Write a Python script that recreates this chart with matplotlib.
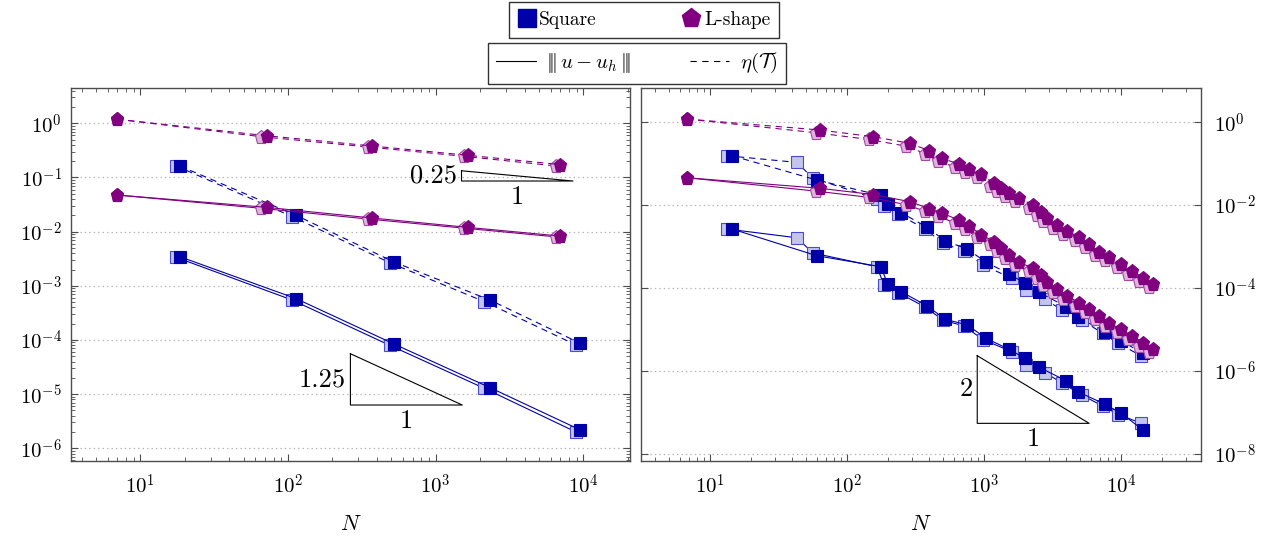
import numpy as np
import matplotlib
matplotlib.use("Agg")
import matplotlib.pyplot as plt
from matplotlib.ticker import LogLocator, FixedLocator, FuncFormatter, NullLocator
from matplotlib.lines import Line2D

plt.rcParams["mathtext.fontset"] = "cm"
plt.rcParams["font.family"] = "serif"
plt.rcParams["font.serif"] = ["cmr10"]
plt.rcParams["axes.unicode_minus"] = False
plt.rcParams["axes.formatter.use_mathtext"] = True
plt.rcParams["lines.scale_dashes"] = False

# ---------------- left panel: uniform refinement ----------------
sq_N_dark_L = [18.5, 113.5, 522, 2331, 9550]
sq_N_light_L = [17.5, 107, 487, 2138, 8913]
sq_eta_dark_L = [0.163, 0.020, 0.00275, 0.000547, 8.67e-5]
sq_eta_light_L = [0.163, 0.0189, 0.00268, 0.00051, 8.1e-5]
sq_err_dark_L = [0.00345, 0.00058, 8.43e-5, 1.32e-5, 2.18e-6]
sq_err_light_L = [0.00335, 0.000545, 8.0e-5, 1.28e-5, 2.0e-6]

ls_N_dark_L = [6.96, 71.6, 369, 1650, 6960]
ls_N_light_L = [6.96, 65.7, 349, 1557, 6570]
ls_eta_dark_L = [1.19, 0.59, 0.382, 0.257, 0.173]
ls_eta_light_L = [1.19, 0.567, 0.366, 0.246, 0.163]
ls_err_dark_L = [0.0475, 0.0281, 0.0179, 0.012, 0.0083]
ls_err_light_L = [0.0475, 0.027, 0.0171, 0.0116, 0.0080]

# ---------------- right panel: adaptive refinement ----------------
sq_N_dark_R = [14.5, 60.1, 177, 198, 249, 385, 522, 758, 1035, 1528, 1982,
               2534, 3970, 4830, 7600, 10050, 14480]
sq_eta_dark_R = [0.156, 0.0404, 0.0171, 0.0105, 0.00655, 0.00292, 0.00136,
                 0.00087, 0.000415, 0.00022, 0.000129, 7.83e-5, 3.52e-5,
                 2.01e-5, 8.75e-6, 5.21e-6, 2.63e-6]
sq_err_dark_R = [0.00265, 0.0006, 0.000325, 0.000124, 8.09e-5, 3.66e-5,
                 1.75e-5, 1.27e-5, 6.06e-6, 3.29e-6, 2.0e-6, 1.21e-6,
                 5.73e-7, 3.11e-7, 1.57e-7, 9.35e-8, 3.70e-8]

sq_N_light_R = [13.3, 42.9, 56.5, 165.6, 186, 236, 371, 502, 714, 984, 1593,
                2043, 2800, 3710, 5190, 7350, 9590, 14120]
sq_eta_light_R = [0.156, 0.108, 0.0451, 0.0140, 0.0095, 0.0061, 0.00265,
                  0.00121, 0.000778, 0.000357, 0.000171, 8.9e-5, 5.3e-5,
                  2.92e-5, 1.68e-5, 8.0e-6, 4.59e-6, 2.26e-6]
sq_err_light_R = [0.00265, 0.00163, 0.000697, 0.000325, 0.000118, 7.74e-5,
                  3.46e-5, 1.68e-5, 1.2e-5, 5.67e-6, 2.88e-6, 1.37e-6,
                  8.95e-7, 5.05e-7, 2.59e-7, 1.40e-7, 8.75e-8, 5.36e-8]

ls_N_dark_R = [6.8, 63.5, 155.6, 288, 399, 491, 657, 781, 951, 1183, 1324,
               1530, 1811, 2290, 2594, 2897, 3394, 4055, 4935, 5838, 6905,
               8222, 9950, 12080, 14550, 17200]
ls_eta_dark_R = [1.20, 0.652, 0.449, 0.311, 0.206, 0.135, 0.0984, 0.0732,
                 0.0564, 0.0336, 0.0263, 0.0199, 0.0146, 0.01005, 0.00693,
                 0.0048, 0.0033, 0.00241, 0.00167, 0.00115, 0.00075,
                 0.000548, 0.000378, 0.000256, 0.000176, 0.000122]
ls_err_dark_R = [0.0459, 0.0255, 0.0180, 0.0121, 0.00828, 0.00644, 0.00436,
                 0.00313, 0.00195, 0.00131, 0.000905, 0.000623, 0.000415,
                 0.000297, 0.000205, 0.000136, 9.25e-5, 6.37e-5, 4.39e-5,
                 3.04e-5, 2.10e-5, 1.44e-5, 1.0e-5, 6.89e-6, 4.75e-6, 3.29e-6]

ls_N_light_R = [6.8, 59.4, 145.5, 269, 373, 459, 614, 730, 889, 1106, 1238,
                1430, 1693, 2141, 2425, 2709, 3173, 3791, 4614, 5458, 6456,
                7687, 9303, 11290, 13600, 16080]
ls_eta_light_R = [1.20, 0.56, 0.385, 0.266, 0.176, 0.115, 0.084, 0.0625,
                  0.048, 0.0287, 0.0225, 0.017, 0.0125, 0.0086, 0.0059,
                  0.0041, 0.0028, 0.00206, 0.00143, 0.00098, 0.00064,
                  0.00047, 0.00032, 0.00022, 0.00015, 0.000104]
ls_err_light_R = [0.0459, 0.0218, 0.0154, 0.0103, 0.0071, 0.0055, 0.0037,
                  0.0027, 0.00167, 0.00112, 0.00077, 0.00053, 0.00035,
                  0.00025, 0.000175, 0.000116, 7.9e-5, 5.4e-5, 3.75e-5,
                  2.6e-5, 1.8e-5, 1.23e-5, 8.5e-6, 5.9e-6, 4.05e-6, 2.8e-6]

BLUE = "#0000aa"
PURPLE = "#800080"
LIGHT_BLUE_FILL = "#c4c4ec"
LIGHT_BLUE_EDGE = "#4a4ad2"
LIGHT_PURPLE_FILL = "#dcb4dc"
LIGHT_PURPLE_EDGE = "#a448a4"
AXIS_GRAY = "#4d4d4d"
DASH = (0, (4.5, 3.5))
FS = 15
SQ_MS = 9.2
PT_MS = 9.8


def draw(ax, N, v, color, ls, marker, ms, light):
    if light:
        fc = LIGHT_BLUE_FILL if color == BLUE else LIGHT_PURPLE_FILL
        ec = LIGHT_BLUE_EDGE if color == BLUE else LIGHT_PURPLE_EDGE
    else:
        fc = ec = color
    ax.plot(N, v, color=color, ls=ls, lw=0.8, marker=marker, ms=ms,
            mfc=fc, mec=ec, mew=0.8)


def exp_fmt(v, pos):
    return r"$10^{%d}$" % int(round(np.log10(v)))


def style(ax, yticks, yminor):
    ax.set_xscale("log")
    ax.set_yscale("log")
    ax.xaxis.set_major_locator(FixedLocator([1e1, 1e2, 1e3, 1e4]))
    ax.xaxis.set_minor_locator(LogLocator(base=10, subs=np.arange(2, 10), numticks=20))
    ax.xaxis.set_major_formatter(FuncFormatter(exp_fmt))
    ax.yaxis.set_major_locator(FixedLocator(yticks))
    if yminor:
        ax.yaxis.set_minor_locator(LogLocator(base=10, subs=np.arange(2, 10), numticks=20))
    else:
        ax.yaxis.set_minor_locator(NullLocator())
    ax.yaxis.set_major_formatter(FuncFormatter(exp_fmt))
    ax.xaxis.set_minor_formatter(plt.NullFormatter())
    ax.yaxis.set_minor_formatter(plt.NullFormatter())
    ax.tick_params(which="both", direction="in", top=True, right=True,
                   left=True, bottom=True, color=AXIS_GRAY, labelsize=FS)
    ax.tick_params(which="major", length=5, width=0.8)
    ax.tick_params(which="minor", length=3, width=0.6)
    ax.tick_params(axis="x", which="major", pad=9)
    ax.tick_params(axis="y", which="major", pad=6.5)
    for s in ax.spines.values():
        s.set_color(AXIS_GRAY)
        s.set_linewidth(1.0)
    ax.yaxis.grid(True, which="major", ls=(0, (1, 2.2)), color="#b4b4b4", lw=0.9)
    ax.set_axisbelow(True)
    ax.set_xlabel(r"$N$", fontsize=FS + 1, labelpad=12)


def slope_triangle(ax, N0, N1, ybot, slope, label):
    ytop = ybot * (N1 / N0) ** slope
    ax.plot([N0, N0, N1, N0], [ytop, ybot, ybot, ytop], color="black", lw=0.8)
    ax.annotate(label, xy=(N0, np.sqrt(ybot * ytop)), xytext=(-3, 0),
                textcoords="offset points", ha="right", va="center", fontsize=19)
    ax.annotate("1", xy=(np.sqrt(N0 * N1), ybot), xytext=(0, -3),
                textcoords="offset points", ha="center", va="top", fontsize=19)


fig = plt.figure(figsize=(12.87, 5.39), dpi=100)
axL = fig.add_axes([71 / 1287, 1 - 461 / 539, 559 / 1287, 373 / 539])
axR = fig.add_axes([641 / 1287, 1 - 461 / 539, 560 / 1287, 373 / 539])

# left panel
draw(axL, sq_N_light_L, sq_eta_light_L, BLUE, DASH, "s", SQ_MS, True)
draw(axL, sq_N_light_L, sq_err_light_L, BLUE, "-", "s", SQ_MS, True)
draw(axL, sq_N_dark_L, sq_eta_dark_L, BLUE, DASH, "s", SQ_MS, False)
draw(axL, sq_N_dark_L, sq_err_dark_L, BLUE, "-", "s", SQ_MS, False)
draw(axL, ls_N_light_L, ls_eta_light_L, PURPLE, DASH, "p", PT_MS, True)
draw(axL, ls_N_light_L, ls_err_light_L, PURPLE, "-", "p", PT_MS, True)
draw(axL, ls_N_dark_L, ls_eta_dark_L, PURPLE, DASH, "p", PT_MS, False)
draw(axL, ls_N_dark_L, ls_err_dark_L, PURPLE, "-", "p", PT_MS, False)
style(axL, [10.0 ** k for k in range(-6, 1)], True)
axL.set_xlim(3.39, 20700)
axL.set_ylim(5.83e-7, 4.49)
slope_triangle(axL, 1496, 8511, 0.0861, 0.25, "0.25")
slope_triangle(axL, 264.5, 1514, 6.3e-6, 1.25, "1.25")

# right panel
draw(axR, sq_N_light_R, sq_eta_light_R, BLUE, DASH, "s", SQ_MS, True)
draw(axR, sq_N_light_R, sq_err_light_R, BLUE, "-", "s", SQ_MS, True)
draw(axR, sq_N_dark_R, sq_eta_dark_R, BLUE, DASH, "s", SQ_MS, False)
draw(axR, sq_N_dark_R, sq_err_dark_R, BLUE, "-", "s", SQ_MS, False)
draw(axR, ls_N_light_R, ls_eta_light_R, PURPLE, DASH, "p", PT_MS, True)
draw(axR, ls_N_light_R, ls_err_light_R, PURPLE, "-", "p", PT_MS, True)
draw(axR, ls_N_dark_R, ls_eta_dark_R, PURPLE, DASH, "p", PT_MS, False)
draw(axR, ls_N_dark_R, ls_err_dark_R, PURPLE, "-", "p", PT_MS, False)
style(axR, [10.0 ** k for k in range(-8, 1, 2)], False)
axR.tick_params(labelleft=False, labelright=True)
axR.tick_params(axis="y", which="major", pad=9)
axR.set_xlim(3.135, 38400)
axR.set_ylim(6.6e-9, 6.75)
slope_triangle(axR, 893, 5860, 5.36e-8, 2, "2")

# legends on top
h_sq = Line2D([], [], ls="none", marker="s", ms=13, mfc=BLUE, mec=BLUE)
h_ls = Line2D([], [], ls="none", marker="p", ms=14, mfc=PURPLE, mec=PURPLE)
leg1 = fig.legend([h_sq, h_ls], ["Square", "L-shape"], loc="upper center",
                  bbox_to_anchor=(644 / 1287, 1 - 2 / 539), ncol=2, fontsize=14,
                  frameon=True, fancybox=False, edgecolor="black",
                  handlelength=0.9, handletextpad=0.2, columnspacing=4.4,
                  borderpad=0.45, borderaxespad=0)
leg1.get_frame().set_linewidth(1.0)

h_err = Line2D([], [], color="black", lw=0.8, ls="-")
h_eta = Line2D([], [], color="black", lw=0.8, ls=(0, (4.5, 4.0)))
leg2 = fig.legend([h_err, h_eta],
                  [r"$|\!|\!|\,u-u_h\,|\!|\!|$", r"$\eta(\mathcal{T})$"],
                  loc="upper center", bbox_to_anchor=(637 / 1287, 1 - 43 / 539),
                  ncol=2, fontsize=15, frameon=True, fancybox=False,
                  edgecolor="black", handlelength=1.9, handletextpad=0.5,
                  columnspacing=2.8, borderpad=0.4, borderaxespad=0)
leg2.get_frame().set_linewidth(1.0)

fig.savefig("out.png", dpi=100)
